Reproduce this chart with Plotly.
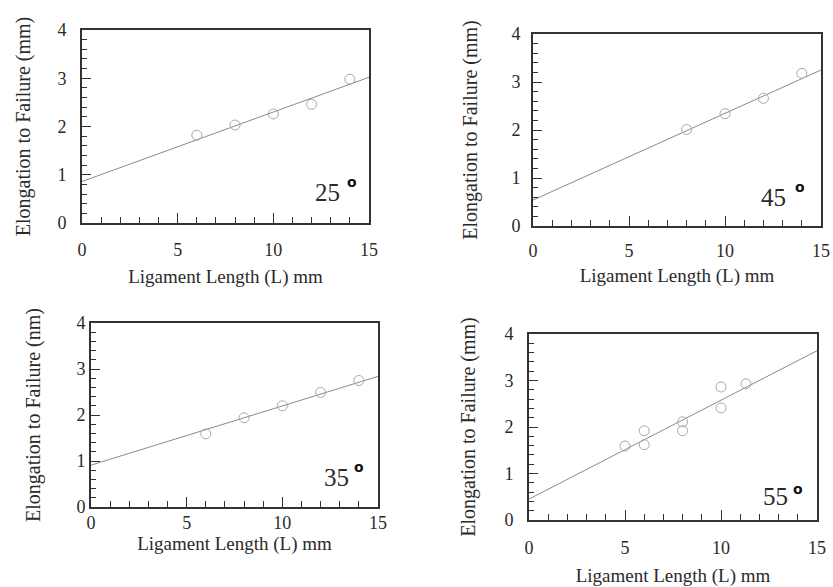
import plotly.graph_objects as go

# ---- data ----
angles = ["25", "45", "35", "55"]

x25 = [6, 8, 10, 12, 14]
y25 = [1.82, 2.03, 2.26, 2.46, 2.98]
fit25_x = [0, 15]
fit25_y = [0.86, 3.02]

x45 = [8, 10, 12, 14]
y45 = [2.01, 2.34, 2.66, 3.18]
fit45_x = [0, 15]
fit45_y = [0.54, 3.25]

x35 = [6, 8, 10, 12, 14]
y35 = [1.59, 1.94, 2.20, 2.49, 2.75]
fit35_x = [0, 15]
fit35_y = [0.91, 2.84]

x55 = [5, 6, 6, 8, 8, 10, 10, 11.3]
y55 = [1.59, 1.92, 1.62, 2.11, 1.92, 2.86, 2.41, 2.93]
fit55_x = [0, 15]
fit55_y = [0.45, 3.64]

ytitles = ["Elongation to Failure (mm)", "Elongation to Failure (mm)",
           "Elongation to Failure (nm)", "Elongation to Failure (mm)"]
xtitle = "Ligament Length (L) mm"
x_ticks = [0, 5, 10, 15]
y_ticks = [0, 1, 2, 3, 4]

panels = [(x25, y25, fit25_x, fit25_y), (x45, y45, fit45_x, fit45_y),
          (x35, y35, fit35_x, fit35_y), (x55, y55, fit55_x, fit55_y)]

# ---- layout geometry (px) ----
W, H = 833, 587
boxes = [(82, 369, 30, 223), (533, 821, 34, 226), (91, 378, 323, 507), (529, 817, 334, 520)]
x_lab_standoff = [10, 8, -1, 11]
x_title_standoff = [10, 8, 4, 13]
y_lab_standoff = [10, 7, 0, 10]
y_title_standoff = [22, 29, 31, 24]
num_pos = [(13.6, 0.64), (13.3, 0.60), (13.6, 0.65), (13.6, 0.50)]
deg_pos = [(14.1, 0.84), (13.9, 0.81), (14.0, 0.87), (14.0, 0.67)]

FONT = "Liberation Serif, Times New Roman, serif"
TXT = "#2a2a2a"

fig = go.Figure()
layout = dict(width=W, height=H, margin=dict(l=0, r=0, t=0, b=0, autoexpand=False),
              paper_bgcolor="white", plot_bgcolor="white", showlegend=False,
              font=dict(family=FONT, color=TXT, size=18))
annotations = []

for i, ((px, py, fx, fy), (l, r, t, b)) in enumerate(zip(panels, boxes)):
    k = "" if i == 0 else str(i + 1)
    xa, ya = "x" + k, "y" + k
    fig.add_trace(go.Scatter(x=fx, y=fy, mode="lines", xaxis=xa, yaxis=ya,
                             line=dict(color="#8a8a8a", width=1), hoverinfo="skip"))
    fig.add_trace(go.Scatter(x=px, y=py, mode="markers", xaxis=xa, yaxis=ya,
                             marker=dict(symbol="circle-open", size=10,
                                         color="#a8a8a8", line=dict(width=1))))
    common = dict(showgrid=False, zeroline=False, showline=True, linecolor="#333",
                  linewidth=1.6, mirror=True, ticks="inside", tickcolor="#333",
                  tickwidth=1.3, automargin=False,
                  tickfont=dict(family=FONT, size=18, color=TXT))
    layout["xaxis" + k] = dict(common, domain=[l / W, r / W], range=[0, 15],
                               anchor=ya, tickvals=x_ticks, ticklen=10,
                               ticklabelstandoff=x_lab_standoff[i],
                               minor=dict(dtick=1, ticks="inside", ticklen=6,
                                          tickcolor="#333", tickwidth=1.2),
                               title=dict(text=xtitle, standoff=x_title_standoff[i],
                                          font=dict(family=FONT, size=19, color=TXT)))
    layout["yaxis" + k] = dict(common, domain=[1 - b / H, 1 - t / H], range=[0, 4],
                               anchor=xa, tickvals=y_ticks, ticklen=9,
                               ticklabelstandoff=y_lab_standoff[i],
                               minor=dict(dtick=0.2, ticks="inside", ticklen=5,
                                          tickcolor="#333", tickwidth=1.2),
                               title=dict(text=ytitles[i], standoff=y_title_standoff[i],
                                          font=dict(family=FONT, size=20, color=TXT)))
    annotations.append(dict(x=num_pos[i][0], y=num_pos[i][1], xref=xa, yref=ya,
                            text=angles[i], showarrow=False, xanchor="right",
                            yanchor="middle", font=dict(family=FONT, size=25, color=TXT)))
    annotations.append(dict(x=deg_pos[i][0], y=deg_pos[i][1], xref=xa, yref=ya,
                            text="<b>o</b>", showarrow=False, xanchor="center",
                            yanchor="middle",
                            font=dict(family="DejaVu Sans", size=14, color="#111")))

layout["annotations"] = annotations
fig.update_layout(**layout)
fig.write_html("out.html", config={"displayModeBar": False},
               post_script="document.body.style.margin='0';document.body.style.overflow='hidden';")
